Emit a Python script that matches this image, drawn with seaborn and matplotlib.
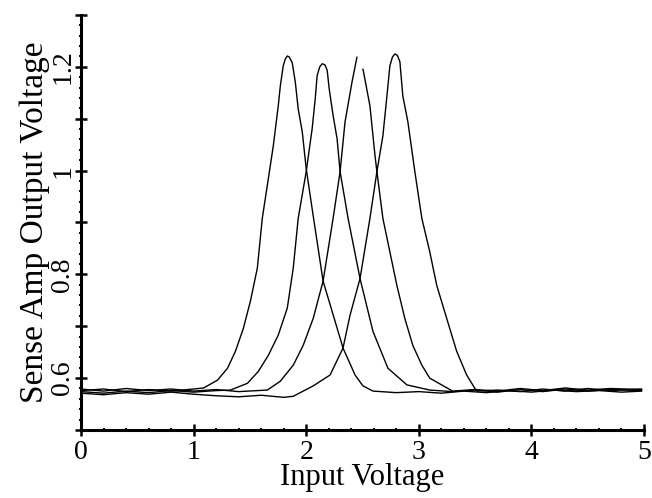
import matplotlib
matplotlib.use("Agg")
import matplotlib.pyplot as plt
from matplotlib.ticker import FuncFormatter, MultipleLocator
import pandas as pd
import seaborn as sns

# sense amp traces (input V, output V)
TRACE_1_X = [0.0, 0.2, 0.4, 0.6, 0.8, 1.0, 1.088, 1.212, 1.301, 1.372, 1.442, 1.504,
             1.566, 1.61, 1.664, 1.708, 1.752, 1.77, 1.796, 1.814, 1.832, 1.85, 1.876, 1.903,
             1.929, 1.965, 2.0, 2.062, 2.15, 2.212, 2.327, 2.434, 2.504, 2.593, 2.8, 3.0,
             3.2, 3.4, 3.6, 3.8, 4.0, 4.2, 4.4, 4.6, 4.8, 4.98]
TRACE_1_Y = [0.576, 0.579, 0.574, 0.578, 0.575, 0.579, 0.581, 0.596, 0.619, 0.652, 0.696, 0.748,
             0.812, 0.908, 0.985, 1.048, 1.125, 1.163, 1.202, 1.215, 1.221, 1.219, 1.208, 1.171,
             1.119, 1.075, 1.004, 0.913, 0.787, 0.742, 0.658, 0.606, 0.585, 0.575, 0.572, 0.574,
             0.571, 0.575, 0.572, 0.576, 0.573, 0.577, 0.574, 0.576, 0.573, 0.575]

TRACE_2_X = [0.0, 0.2, 0.4, 0.6, 0.8, 1.0, 1.2, 1.327, 1.478, 1.575, 1.664, 1.752, 1.832,
             1.885, 1.929, 2.0, 2.053, 2.08, 2.097, 2.12, 2.142, 2.166, 2.186, 2.204, 2.239,
             2.274, 2.301, 2.372, 2.478, 2.593, 2.726, 2.894, 3.097, 3.3, 3.5, 3.7, 3.9,
             4.1, 4.3, 4.5, 4.7, 4.98]
TRACE_2_Y = [0.574, 0.571, 0.575, 0.572, 0.576, 0.573, 0.576, 0.577, 0.59, 0.613, 0.644, 0.683, 0.735,
             0.812, 0.908, 0.998, 1.081, 1.138, 1.183, 1.2, 1.206, 1.204, 1.194, 1.158, 1.106,
             1.062, 0.998, 0.908, 0.792, 0.69, 0.619, 0.587, 0.577, 0.574, 0.577, 0.573, 0.578,
             0.574, 0.579, 0.575, 0.578, 0.576]

# third trace has a break in the scan just past its peak
TRACE_3A_X = [0.0, 0.2, 0.4, 0.6, 0.8, 1.0, 1.2, 1.4, 1.655, 1.77, 1.885, 1.973, 2.062,
              2.15, 2.239, 2.301, 2.345, 2.407, 2.451]
TRACE_3A_Y = [0.579, 0.575, 0.58, 0.576, 0.579, 0.575, 0.578, 0.574, 0.577, 0.594, 0.625, 0.663, 0.715,
              0.787, 0.908, 0.998, 1.094, 1.171, 1.219]
TRACE_3B_X = [2.504, 2.566, 2.611, 2.628, 2.681, 2.805, 2.876, 2.947, 3.027, 3.097, 3.3,
              3.5, 3.7, 3.9, 4.1, 4.3, 4.5, 4.7, 4.98]
TRACE_3B_Y = [1.196, 1.125, 1.029, 0.998, 0.908, 0.779, 0.715, 0.663, 0.625, 0.6, 0.575,
              0.578, 0.575, 0.58, 0.576, 0.581, 0.577, 0.58, 0.578]

TRACE_4_X = [0.0, 0.2, 0.4, 0.6, 0.8, 1.0, 1.2, 1.4, 1.6, 1.8, 1.885, 2.062, 2.212, 2.327,
             2.389, 2.478, 2.566, 2.628, 2.681, 2.717, 2.743, 2.766, 2.788, 2.81, 2.832,
             2.858, 2.903, 2.965, 3.027, 3.097, 3.159, 3.248, 3.336, 3.425, 3.513, 3.7,
             3.9, 4.1, 4.3, 4.5, 4.7, 4.98]
TRACE_4_Y = [0.571, 0.568, 0.572, 0.569, 0.573, 0.569, 0.566, 0.564, 0.567, 0.563, 0.565, 0.585, 0.606, 0.658,
             0.721, 0.792, 0.908, 0.998, 1.067, 1.144, 1.202, 1.219, 1.225, 1.222, 1.21,
             1.144, 1.094, 0.998, 0.908, 0.844, 0.779, 0.715, 0.652, 0.606, 0.575, 0.577,
             0.574, 0.579, 0.575, 0.58, 0.576, 0.579]

Y_LABELLED = [0.6, 0.8, 1.0, 1.2]


def build_frame() -> pd.DataFrame:
    parts = [
        ("1", TRACE_1_X, TRACE_1_Y),
        ("2", TRACE_2_X, TRACE_2_Y),
        ("3a", TRACE_3A_X, TRACE_3A_Y),
        ("3b", TRACE_3B_X, TRACE_3B_Y),
        ("4", TRACE_4_X, TRACE_4_Y),
    ]
    frames = [pd.DataFrame({"vin": xs, "vout": ys, "trace": name}) for name, xs, ys in parts]
    return pd.concat(frames, ignore_index=True)


def y_label_fmt(value, _pos):
    for v in Y_LABELLED:
        if abs(value - v) < 1e-6:
            return f"{v:g}"
    return ""


sns.set_theme(style="ticks")
plt.rcParams["font.family"] = ["Liberation Serif", "DejaVu Serif"]

df = build_frame()

fig = plt.figure(figsize=(6.52, 4.98), dpi=100)
ax = fig.add_axes([81 / 652, 68 / 498, 563 / 652, 415 / 498])

sns.lineplot(data=df, x="vin", y="vout", units="trace", estimator=None, sort=False,
             color="black", linewidth=1.0, ax=ax)

ax.set_xlim(0, 5)
ax.set_ylim(0.5, 1.3)
sns.despine(ax=ax)
for side in ("left", "bottom"):
    ax.spines[side].set_linewidth(2.2)
    ax.spines[side].set_color("black")

ax.xaxis.set_major_locator(MultipleLocator(1))
ax.xaxis.set_minor_locator(MultipleLocator(0.2))
ax.yaxis.set_major_locator(MultipleLocator(0.1))
ax.yaxis.set_minor_locator(MultipleLocator(0.02))
ax.yaxis.set_major_formatter(FuncFormatter(y_label_fmt))

ax.tick_params(which="major", direction="inout", length=8, width=1.8, color="black",
               labelsize=20, labelcolor="black")
ax.tick_params(which="minor", direction="inout", length=3, width=1.4, color="black")
ax.tick_params(axis="x", which="major", pad=3)
ax.tick_params(axis="y", which="major", pad=0, labelrotation=90)
for lbl in ax.get_yticklabels():
    lbl.set_va("center")

ax.set_xlabel("Input Voltage", fontsize=22, labelpad=-1, color="black")
ax.set_ylabel("Sense Amp Output Voltage", fontsize=24, labelpad=0, color="black")

fig.savefig("out.png", dpi=100)
